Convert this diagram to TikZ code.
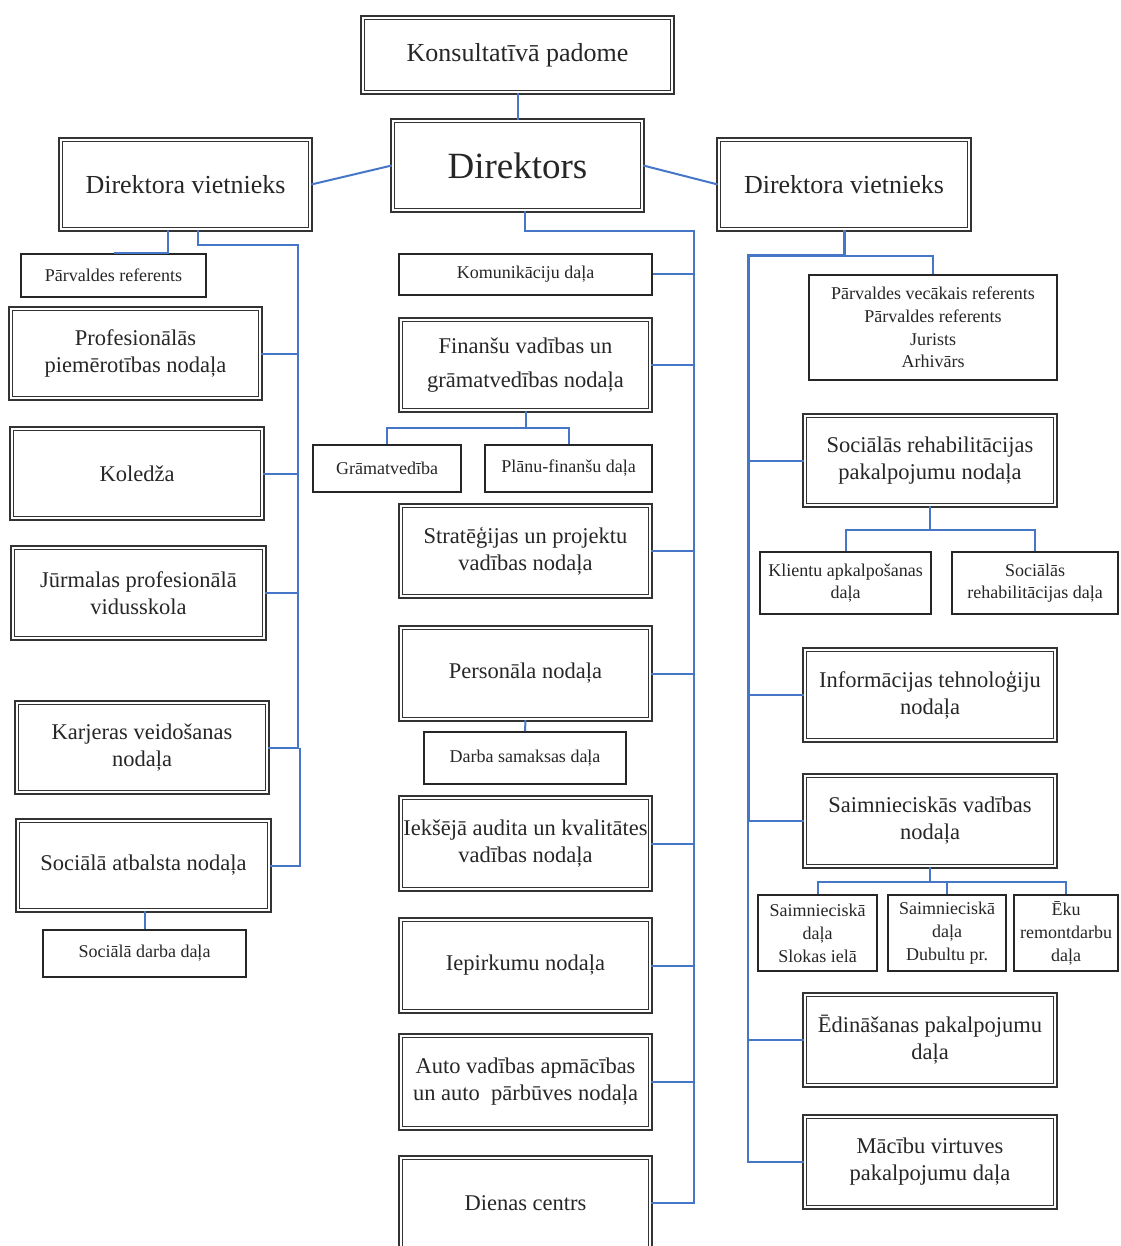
\documentclass[tikz,border=0pt]{standalone}
\usepackage{fontspec}
\setmainfont{Liberation Serif}
\definecolor{linkblue}{RGB}{70,118,200}
\newcommand\hugefnt{\fontsize{37}{42}\selectfont}
\newcommand\bigfnt{\fontsize{26}{30}\selectfont}
\newcommand\medfnt{\fontsize{22.5}{27}\selectfont}
\newcommand\smlfnt{\fontsize{18}{22.5}\selectfont}
\begin{document}
\begin{tikzpicture}[x=1pt,y=-1pt,
  dbox/.style 2 args={draw=black!80, double=white, double distance=1.8pt, line width=1.8pt,
     inner sep=1pt, align=center, text=black!85, font=\medfnt,
     minimum width={#1-5.4}, minimum height={#2-5.4}},
  sbox/.style 2 args={draw=black!85, line width=2pt, inner sep=1pt, align=center,
     text=black!85, font=\smlfnt, minimum width={#1-2}, minimum height={#2-2}},
  conn/.style={draw=linkblue, line width=2pt},
  thickconn/.style={draw=linkblue, line width=3pt},
]
\clip (0,0) rectangle (1120,1246);
% ---------- top ----------
\node[dbox={315}{80}, font=\bigfnt] (kp) at (517.5,55) {Konsultatīvā padome};
\node[dbox={255}{95}, font=\hugefnt] (dir) at (517.5,165.5) {Direktors};
\node[dbox={255}{95}, font=\bigfnt] (ldv) at (185.5,184.5) {Direktora vietnieks};
\node[dbox={256}{95}, font=\bigfnt] (rdv) at (844,184.5) {Direktora vietnieks};
% ---------- left column ----------
\node[sbox={187}{45}] (pref) at (113.5,275.5) {Pārvaldes referents};
\node[dbox={255}{95}] (prof) at (135.5,353.5) {Profesionālās\\piemērotības nodaļa};
\node[dbox={256}{95}] (kol) at (137,473.5) {Koledža};
\node[dbox={257}{96}] (jur) at (138.5,593) {Jūrmalas profesionālā\\vidusskola};
\node[dbox={256}{95}] (karj) at (142,747.5) {Karjeras veidošanas\\nodaļa};
\node[dbox={257}{95}] (sab) at (143.5,865.5) {Sociālā atbalsta nodaļa};
\node[sbox={205}{49}] (sdd) at (144.5,953.5) {Sociālā darba daļa};
% ---------- middle column ----------
\node[sbox={255}{43}] (kom) at (525.5,274.5) {Komunikāciju daļa};
\node[dbox={255}{96}, font=\fontsize{22.5}{34}\selectfont] (fin) at (525.5,365) {Finanšu vadības un\\grāmatvedības nodaļa};
\node[sbox={150}{49}] (gram) at (387,468.5) {Grāmatvedība};
\node[sbox={169}{49}] (plan) at (568.5,468.5) {Plānu-finanšu daļa};
\node[dbox={255}{96}] (str) at (525.5,551) {Stratēģijas un projektu\\vadības nodaļa};
\node[dbox={255}{97}] (pers) at (525.5,673.5) {Personāla nodaļa};
\node[sbox={204}{54}] (darba) at (525,758) {Darba samaksas daļa};
\node[dbox={255}{97}] (iek) at (525.5,843.5) {Iekšējā audita un kvalitātes\\vadības nodaļa};
\node[dbox={255}{97}] (iep) at (525.5,965.5) {Iepirkumu nodaļa};
\node[dbox={255}{98}] (auto) at (525.5,1082) {Auto vadības apmācības\\un auto\ \ pārbūves nodaļa};
\node[dbox={255}{96}] (dien) at (525.5,1203) {Dienas centrs};
% ---------- right column ----------
\node[sbox={250}{107}, font=\fontsize{18}{22.5}\selectfont] (pvr) at (933,327.5) {Pārvaldes vecākais referents\\Pārvaldes referents\\Jurists\\Arhivārs};
\node[dbox={256}{95}] (srp) at (930,460.5) {Sociālās rehabilitācijas\\pakalpojumu nodaļa};
\node[sbox={173}{64}, font=\fontsize{18}{22}\selectfont] (klient) at (845.5,583) {Klientu apkalpošanas\\daļa};
\node[sbox={168}{64}, font=\fontsize{18}{22}\selectfont] (srd) at (1035,583) {Sociālās\\rehabilitācijas daļa};
\node[dbox={256}{96}] (it) at (930,695) {Informācijas tehnoloģiju\\nodaļa};
\node[dbox={256}{96}] (svn) at (930,821) {Saimnieciskās vadības\\nodaļa};
\node[sbox={121}{78}, font=\fontsize{18}{23}\selectfont] (s1) at (817.5,933) {Saimnieciskā\\daļa\\Slokas ielā};
\node[sbox={120}{78}, font=\fontsize{18}{23}\selectfont] (s2) at (947,933) {Saimnieciskā\\daļa\\Dubultu pr.};
\node[sbox={106}{78}, font=\fontsize{18}{23}\selectfont] (eku) at (1066,933) {Ēku\\remontdarbu\\daļa};
\node[dbox={256}{96}] (edin) at (930,1040) {Ēdināšanas pakalpojumu\\daļa};
\node[dbox={256}{96}] (mac) at (930,1162) {Mācību virtuves\\pakalpojumu daļa};
% ---------- helper coordinates ----------
\coordinate (lx1) at (168,0);
\coordinate (lx2) at (198,0);
\coordinate (ltrunk) at (298,245);
\coordinate (ltrunk2) at (300,747.5);
\coordinate (mx) at (525,0);
\coordinate (mtrunk) at (694,231);
\coordinate (fb) at (0,428);
\coordinate (rb) at (0,256);
\coordinate (rtrunk) at (748,256);
\coordinate (rb2) at (0,530);
\coordinate (rb3) at (0,882);
% ---------- connectors ----------
\draw[conn] (kp.south) -- (dir.north);
\draw[conn] (dir.west) -- (ldv.east);
\draw[conn] (dir.east) -- (rdv.west);
% left
\draw[conn] (ldv.south -| lx1) |- (pref.north);
\draw[conn] (ldv.south -| lx2) |- (ltrunk) -- (ltrunk |- karj.east) -- (karj.east);
\draw[conn] (sab.east) -| (ltrunk2);
\draw[conn] (prof.east) -- (prof.east -| ltrunk);
\draw[conn] (kol.east) -- (kol.east -| ltrunk);
\draw[conn] (jur.east) -- (jur.east -| ltrunk);
\draw[conn] (sab.south -| sdd.north) -- (sdd.north);
% middle
\draw[conn] (dir.south -| mx) |- (mtrunk) -- (mtrunk |- dien.east) -- (dien.east);
\foreach \n in {kom,fin,str,pers,iek,iep,auto}
  \draw[conn] (\n.east) -- (\n.east -| mtrunk);
\draw[conn] (fin.south) -- (fin.south |- fb);
\draw[conn] (gram.north) |- (plan.north |- fb) -- (plan.north);
\draw[conn] (pers.south) -- (darba.north);
% right
\draw[thickconn] (rdv.south) -- (rdv.south |- rb) -- (rtrunk) -- (rtrunk |- svn.west);
\draw[conn] (rtrunk |- svn.west) -- (rtrunk |- mac.west) -- (mac.west);
\draw[conn] (rdv.south |- rb) -| (pvr.north);
\foreach \n in {srp,it,svn,edin}
  \draw[conn] (\n.west) -- (\n.west -| rtrunk);
\draw[conn] (srp.south) -- (srp.south |- rb2);
\draw[conn] (klient.north) |- (srd.north |- rb2) -- (srd.north);
\draw[conn] (svn.south) -- (svn.south |- rb3);
\draw[conn] (s1.north) |- (eku.north |- rb3) -- (eku.north);
\draw[conn] (s2.north) -- (s2.north |- rb3);
\end{tikzpicture}
\end{document}
